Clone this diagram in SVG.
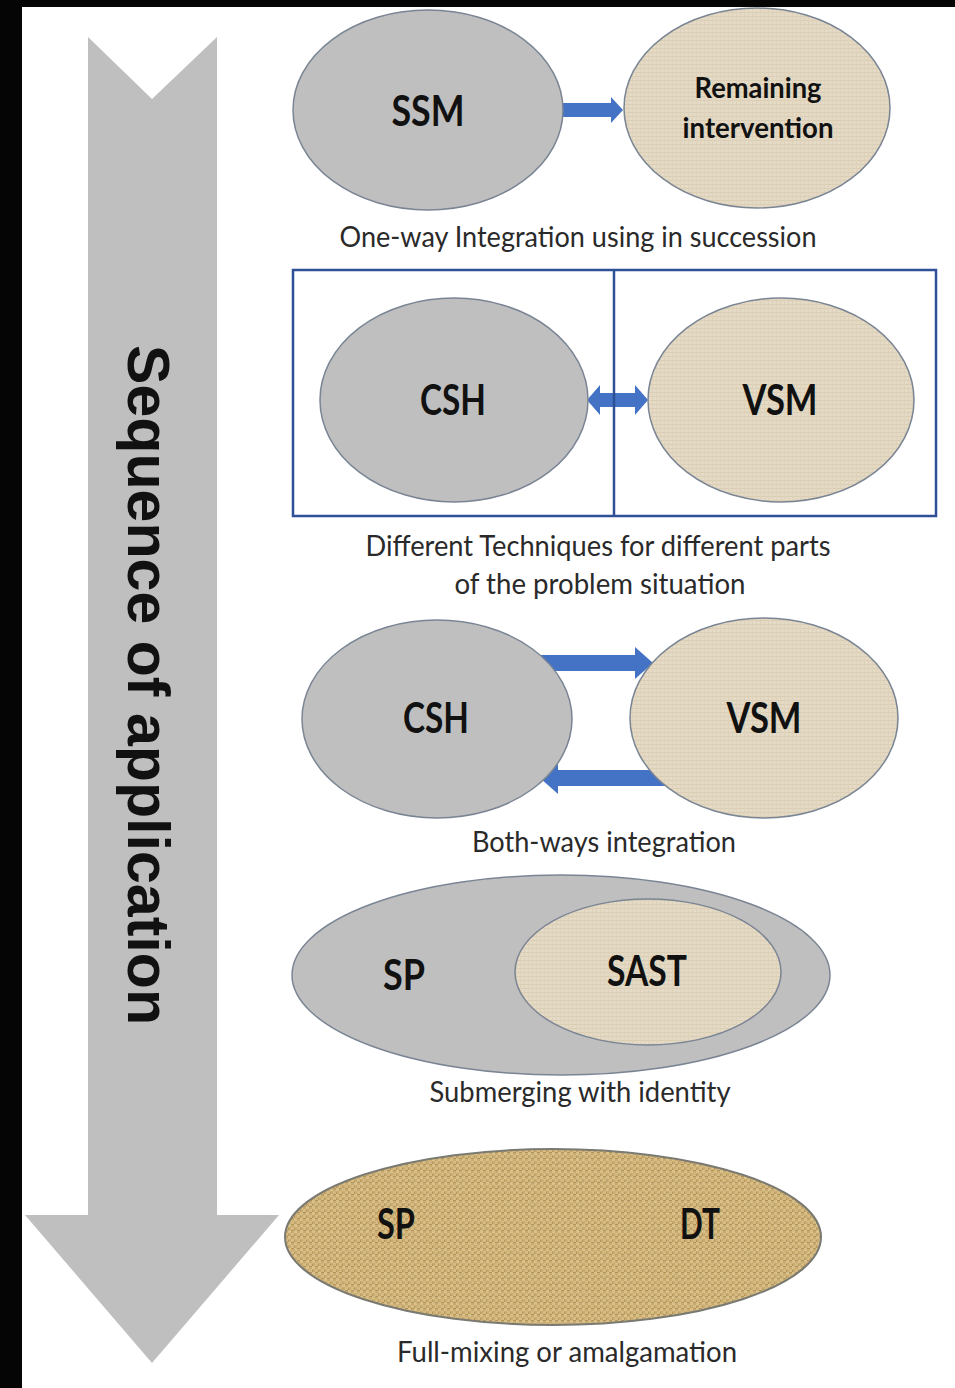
<svg xmlns="http://www.w3.org/2000/svg" width="955" height="1388" viewBox="0 0 955 1388">
  <style>
    .gray { fill: #bfbfbf; stroke: #7a8594; stroke-width: 1.5; }
    .canvas { fill: url(#weave); stroke: #7a8594; stroke-width: 1.5; }
    .label { font-family: Lato, "Open Sans", "Liberation Sans", sans-serif; font-weight: 700; font-size: 42px; fill: #111; text-anchor: middle; }
    .label2 { font-family: Lato, "Open Sans", "Liberation Sans", sans-serif; font-weight: 700; font-size: 29px; fill: #111; text-anchor: middle; }
    .caption { font-family: Lato, "Open Sans", "Liberation Sans", sans-serif; font-size: 29px; fill: #2a2a2a; text-anchor: middle; }
    .flow { fill: #4472c4; }
  </style>
  <defs>
    <!-- light linen weave for the beige nodes -->
    <pattern id="weave" width="4" height="4" patternUnits="userSpaceOnUse">
      <rect width="4" height="4" fill="#e5dac5"/>
      <rect width="4" height="1" fill="#d9cdb4"/>
      <rect width="1" height="4" fill="#ded2ba"/>
    </pattern>
    <!-- coarse burlap weave for the amalgamated node -->
    <pattern id="burlap" width="6" height="6" patternUnits="userSpaceOnUse">
      <rect width="6" height="6" fill="#ccad6f"/>
      <rect width="3" height="3" fill="#dcc28b"/>
      <rect x="3" y="3" width="3" height="3" fill="#d8bd84"/>
      <rect x="3" y="0" width="3" height="1" fill="#b39458"/>
      <rect x="0" y="4" width="1" height="2" fill="#b6975b"/>
    </pattern>
    <filter id="grain" x="0" y="0" width="100%" height="100%">
      <feTurbulence type="fractalNoise" baseFrequency="0.85" numOctaves="2" seed="7" result="noise"/>
      <feColorMatrix in="noise" type="matrix" values="0 0 0 0 0.45  0 0 0 0 0.34  0 0 0 0 0.16  0 0 0 1.4 -0.65" result="specks"/>
      <feComposite in="specks" in2="SourceGraphic" operator="in"/>
    </filter>
  </defs>

  <!-- page background with dark frame on top and left -->
  <rect width="955" height="1388" fill="#ffffff"/>
  <rect x="0" y="0" width="955" height="7" fill="#050505"/>
  <rect x="0" y="0" width="22" height="1388" fill="#050505"/>

  <!-- sequence arrow -->
  <g id="sequence-arrow">
    <polygon points="88,37 152,99 217,37 217,1215 279,1215 152,1363 25,1215 88,1215" fill="#bfbfbf"/>
    <text transform="translate(128,345) rotate(90)" font-family="'Liberation Sans', Arial, sans-serif" font-weight="700" font-size="60" fill="#111" textLength="680" lengthAdjust="spacingAndGlyphs">Sequence of application</text>
  </g>

  <!-- connectors -->
  <g id="connectors">
    <polygon class="flow" points="560,103 611,103 611,97 623,110 611,123 611,117 560,117"/>
    <polygon class="flow" points="587,400 600,385 600,393 635,393 635,385 648,400 635,415 635,407 600,407 600,415"/>
    <polygon class="flow" points="520,655 635,655 635,647 653,663 635,679 635,671 520,671"/>
    <polygon class="flow" points="680,770 558,770 558,762 540,778 558,794 558,786 680,786"/>
    <line x1="614" y1="270" x2="614" y2="516" stroke="#2f4f96" stroke-width="2.5"/>
  </g>

  <!-- one-way integration -->
  <g id="node-ssm">
    <ellipse class="gray" cx="428" cy="110" rx="135" ry="100"/>
    <text class="label" x="428" y="126" textLength="73" lengthAdjust="spacingAndGlyphs">SSM</text>
  </g>
  <g id="node-remaining">
    <ellipse class="canvas" cx="757" cy="108" rx="133" ry="100"/>
    <text class="label2" x="758" y="98" textLength="127" lengthAdjust="spacingAndGlyphs">Remaining</text>
    <text class="label2" x="758" y="138" textLength="151" lengthAdjust="spacingAndGlyphs">intervention</text>
  </g>
  <text class="caption" x="578" y="247" textLength="477" lengthAdjust="spacingAndGlyphs">One-way Integration using in succession</text>

  <!-- different techniques for different parts -->
  <g id="frame-parts">
    <rect x="293" y="270" width="643" height="246" fill="none" stroke="#2f4f96" stroke-width="2.5"/>
  </g>
  <g id="node-csh-1">
    <ellipse class="gray" cx="454" cy="400" rx="134" ry="102"/>
    <text class="label" x="453" y="415" textLength="66" lengthAdjust="spacingAndGlyphs">CSH</text>
  </g>
  <g id="node-vsm-1">
    <ellipse class="canvas" cx="781" cy="400" rx="133" ry="102"/>
    <text class="label" x="780" y="415" textLength="75" lengthAdjust="spacingAndGlyphs">VSM</text>
  </g>
  <text class="caption" x="598" y="556" textLength="465" lengthAdjust="spacingAndGlyphs">Different Techniques for different parts</text>
  <text class="caption" x="600" y="594" textLength="291" lengthAdjust="spacingAndGlyphs">of the problem situation</text>

  <!-- both-ways integration -->
  <g id="node-csh-2">
    <ellipse class="gray" cx="437" cy="719" rx="135" ry="99"/>
    <text class="label" x="436" y="733" textLength="66" lengthAdjust="spacingAndGlyphs">CSH</text>
  </g>
  <g id="node-vsm-2">
    <ellipse class="canvas" cx="764" cy="718" rx="134" ry="100"/>
    <text class="label" x="764" y="733" textLength="75" lengthAdjust="spacingAndGlyphs">VSM</text>
  </g>
  <text class="caption" x="604" y="852" textLength="264" lengthAdjust="spacingAndGlyphs">Both-ways integration</text>

  <!-- submerging with identity -->
  <g id="node-sp-outer">
    <ellipse class="gray" cx="561" cy="975" rx="269" ry="100"/>
    <text class="label" x="404" y="990" textLength="42" lengthAdjust="spacingAndGlyphs">SP</text>
  </g>
  <g id="node-sast">
    <ellipse class="canvas" cx="648" cy="972" rx="133" ry="73"/>
    <text class="label" x="647" y="986" textLength="80" lengthAdjust="spacingAndGlyphs">SAST</text>
  </g>
  <text class="caption" x="580" y="1102" textLength="301" lengthAdjust="spacingAndGlyphs">Submerging with identity</text>

  <!-- full mixing -->
  <g id="node-amalgam">
    <ellipse cx="553" cy="1237" rx="268" ry="88" fill="url(#burlap)"/>
    <ellipse cx="553" cy="1237" rx="268" ry="88" fill="#000" filter="url(#grain)"/>
    <ellipse cx="553" cy="1237" rx="268" ry="88" fill="none" stroke="#7a7a72" stroke-width="2"/>
    <text class="label" x="396" y="1239" textLength="38" lengthAdjust="spacingAndGlyphs">SP</text>
    <text class="label" x="700" y="1239" textLength="40" lengthAdjust="spacingAndGlyphs">DT</text>
  </g>
  <text class="caption" x="567" y="1362" textLength="340" lengthAdjust="spacingAndGlyphs">Full-mixing or amalgamation</text>
</svg>
